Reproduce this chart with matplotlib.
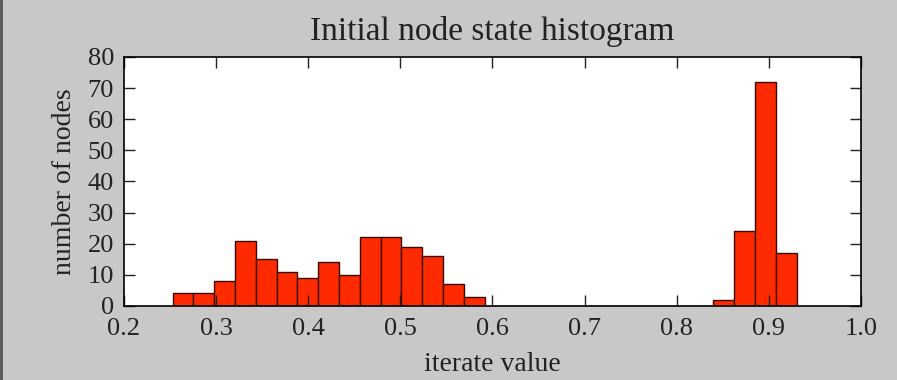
import numpy as np
import matplotlib
matplotlib.use("Agg")
import matplotlib.pyplot as plt
from matplotlib.lines import Line2D

# histogram of initial node states: 30 equal bins between lo and hi
bin_lo = 0.253
bin_hi = 0.930
counts = [4, 4, 8, 21, 15, 11, 9, 14, 10, 22, 22, 19, 16, 7, 3,
          0, 0, 0, 0, 0, 0, 0, 0, 0, 0, 0,
          2, 24, 72, 17]
xticks = [0.2, 0.3, 0.4, 0.5, 0.6, 0.7, 0.8, 0.9, 1.0]
yticks = [0, 10, 20, 30, 40, 50, 60, 70, 80]

plt.rcParams['font.family'] = ['Liberation Serif', 'DejaVu Serif']

edges = np.linspace(bin_lo, bin_hi, len(counts) + 1)

fig = plt.figure(figsize=(8.97, 3.80), dpi=100, facecolor='#c8c8c8')
ax = fig.add_axes([0.138, 0.195, 0.822, 0.655])
ax.hist(edges[:-1], bins=edges, weights=counts,
        color='#ff2a00', edgecolor='#3a0a00', linewidth=1.0)

ax.set_xlim(0.2, 1.0)
ax.set_ylim(0, 80)
ax.set_xticks(xticks)
ax.set_yticks(yticks)
ax.tick_params(direction='in', top=True, right=True, length=8, width=1,
               labelsize=19, colors='#222222')
ax.tick_params(axis='x', pad=9)
ax.tick_params(axis='y', pad=7)
for s in ax.spines.values():
    s.set_linewidth(1.2)

ax.set_title('Initial node state histogram', fontsize=24, pad=12,
             color='#222222')
ax.set_xlabel('iterate value', fontsize=20, labelpad=8, color='#222222')
ax.set_ylabel('number of nodes', fontsize=20, labelpad=8, color='#222222')

# dark edge on the left side of the figure
fig.add_artist(Line2D([0.001, 0.001], [0, 1], transform=fig.transFigure,
                      color='#555555', linewidth=2))

fig.savefig('out.png', dpi=100, facecolor=fig.get_facecolor())
